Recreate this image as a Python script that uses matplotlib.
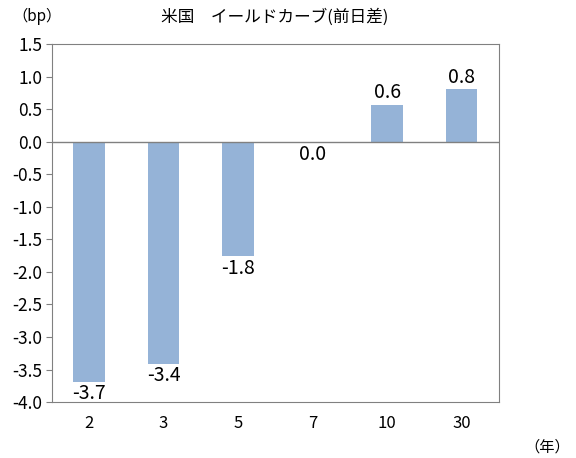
import numpy as np
import matplotlib.pyplot as plt

plt.rcParams['font.family'] = ['Noto Sans CJK JP', 'DejaVu Sans']

maturities = ["2", "3", "5", "7", "10", "30"]
changes = [-3.69, -3.41, -1.76, -0.02, 0.57, 0.81]
yticks = [-4.0, -3.5, -3.0, -2.5, -2.0, -1.5, -1.0, -0.5, 0.0, 0.5, 1.0, 1.5]

fig = plt.figure(figsize=(5.76, 4.58), dpi=100)
ax = fig.add_axes([0.090, 0.122, 0.776, 0.782])

x = np.arange(len(maturities))
ax.bar(x, changes, width=0.42, color="#95B3D7", zorder=2)
ax.axhline(0, color="#808080", lw=1, zorder=3)

for xi, v in zip(x, changes):
    label = f"{abs(v):.1f}" if round(v, 1) == 0 else f"{v:.1f}"
    if v >= 0:
        ax.text(xi, v + 0.02, label, ha="center", va="bottom", fontsize=14)
    else:
        ax.text(xi, v - 0.02, label, ha="center", va="top", fontsize=14)

ax.set_xlim(-0.5, len(maturities) - 0.5)
ax.set_ylim(-4.0, 1.5)
ax.set_yticks(yticks)
ax.set_yticklabels([f"{t:.1f}" for t in yticks], fontsize=12.5)
ax.set_xticks(x)
ax.set_xticklabels(maturities, fontsize=12)
ax.tick_params(axis="x", length=0, pad=9)
ax.tick_params(axis="y", length=4, color="#808080", direction="out", pad=3)
for s in ax.spines.values():
    s.set_color("#808080")

fig.text(0.477, 0.963, "米国　イールドカーブ(前日差)", ha="center", va="center", fontsize=12)
fig.text(0.065, 0.963, "（bp）", ha="center", va="center", fontsize=11)
fig.text(0.95, 0.024, "（年）", ha="center", va="center", fontsize=11)

fig.savefig("out.png", dpi=100)
